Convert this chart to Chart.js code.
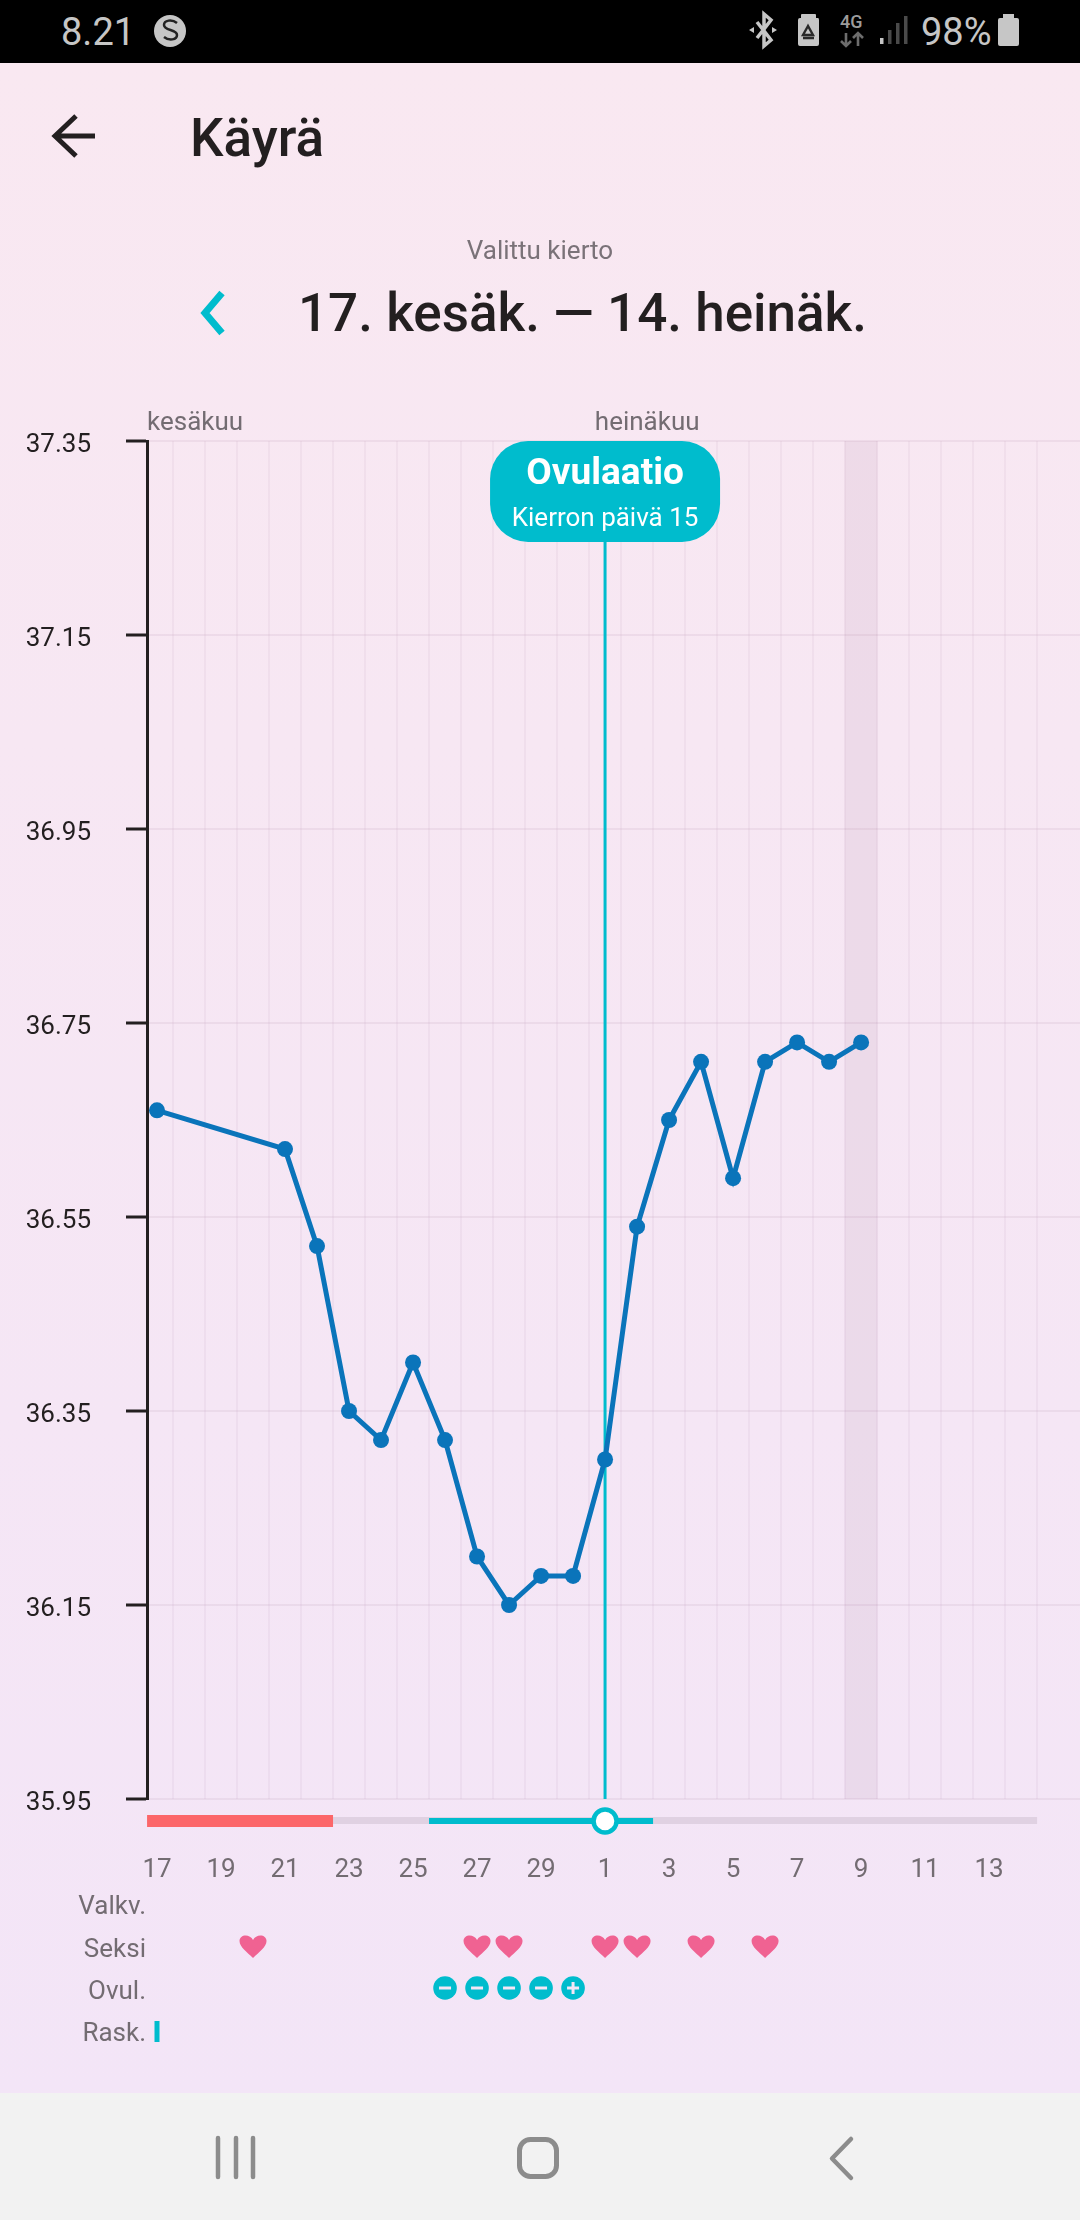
<!DOCTYPE html>
<html lang="fi">
<head>
<meta charset="utf-8">
<title>Käyrä</title>
<script src="https://cdn.jsdelivr.net/npm/chart.js@4"></script>
<style>
html,body{margin:0;padding:0;width:1080px;height:2220px;overflow:hidden;font-family:Roboto,sans-serif}
#page{position:absolute;left:0;top:0;width:1080px;height:2220px;background:linear-gradient(180deg,#f9e8f1 0,#f9e8f1 63px,#f3e5f7 2093px)}
#status{position:absolute;left:0;top:0;width:1080px;height:63px;background:#000}
#nav{position:absolute;left:0;top:2093px;width:1080px;height:127px;background:#f2f2f2}
canvas{position:absolute;left:0;top:0}
.t{position:absolute;white-space:nowrap;line-height:1;transform:translateY(-50%)}
svg{position:absolute;left:0;top:0}
</style>
</head>
<body>
<div id="page">
  <canvas id="c" width="1080" height="2220"></canvas>
  <div id="status"></div>
  <div id="nav"></div>
  <div class="t" style="left:61px;top:32px;font-size:38px;color:#c6c6c6">8.21</div>
  <div class="t" style="left:921px;top:32px;font-size:38px;color:#c6c6c6">98%</div>
  <div class="t" style="left:840px;top:22px;font-size:18px;font-weight:500;color:#9c9c9c">4G</div>
  <div class="t" style="left:190px;top:138px;font-size:53px;font-weight:500;color:#231f20">Käyrä</div>
  <div class="t" style="left:0;width:1080px;text-align:center;top:250px;font-size:26px;color:#7a7278">Valittu kierto</div>
  <div class="t" style="left:298px;top:313px;font-size:53px;font-weight:500;color:#231f20">17. kesäk. — 14. heinäk.</div>
  <svg width="1080" height="2220" viewBox="0 0 1080 2220" fill="none">
    <circle cx="170" cy="31" r="16" fill="#c6c6c6"/>
    <path d="M177 23c-5-4-13-3-13 2 0 6 13 4 13 10 0 5-8 6-13 2" stroke="#222" stroke-width="2.5"/>
    <path d="M757 22l14 18-7 6V14l7 6-14 18" stroke="#c6c6c6" stroke-width="3.5"/>
    <path d="M749 30l5-3v6zM777 30l-5-3v6z" fill="#c6c6c6"/>
    <path d="M801 18v-3q0-1 1-1h13q1 0 1 1v3h2q1 0 1 2v24q0 2-2 2h-17q-2 0-2-2V20q0-2 2-2z" fill="#c6c6c6"/>
    <path d="M808 26l-5 9h10zM803 38h11" stroke="#2a2a2a" stroke-width="2.4"/>
    <path d="M846 33v13m-5-5l5 5 5-5" stroke="#6d6d6d" stroke-width="2.6"/>
    <path d="M858 46V33m-5 5l5-5 5 5" stroke="#6d6d6d" stroke-width="2.6"/>
    <rect x="880" y="38" width="3.5" height="6" fill="#c6c6c6"/>
    <rect x="888" y="30" width="3.5" height="14" fill="#4a4a4a"/>
    <rect x="896" y="23" width="3.5" height="21" fill="#4a4a4a"/>
    <rect x="904" y="16" width="3.5" height="28" fill="#4a4a4a"/>
    <path d="M1003 14h11v4h3q2 0 2 2v24q0 2-2 2h-17q-2 0-2-2V20q0-2 2-2h3z" fill="#c6c6c6"/>
    <path d="M95 136H57M76 116l-21 20 21 20" stroke="#231f20" stroke-width="5"/>
    <path d="M222 293l-17 20 17 20" stroke="#00bccd" stroke-width="7"/>
    <path d="M218 2138v39M236 2138v39M253 2138v39" stroke="#8c8c8c" stroke-width="4.5" stroke-linecap="round"/>
    <rect x="519.5" y="2139.5" width="37" height="37" rx="11" stroke="#8c8c8c" stroke-width="5"/>
    <path d="M851 2139l-19 19.500 19 19.500" stroke="#8c8c8c" stroke-width="4.500" stroke-linecap="round" stroke-linejoin="round"/>
  </svg>
</div>
<script>
const dayLabels = ['17','18','19','20','21','22','23','24','25','26','27','28','29','30','1','2','3','4','5','6','7','8','9','10','11','12','13','14'];
const temperatures = [36.66,null,null,null,36.62,36.52,36.35,36.32,36.40,36.32,36.20,36.15,36.18,36.18,36.30,36.54,36.65,36.71,36.59,36.71,36.73,36.71,36.73,null,null,null,null,null];
const yTickValues = [35.95,36.15,36.35,36.55,36.75,36.95,37.15,37.35];
const monthLabels = ['kesäkuu','heinäkuu'];
const monthStarts = [-0.31,13.68];
const ovulationDay = 14;
const ovulationTitle = 'Ovulaatio';
const ovulationSubtitle = 'Kierron päivä 15';
const shadedDay = 22;
const periodRange = [-0.31,5.5];
const fertileRange = [8.5,15.5];
const trackRange = [-0.31,27.5];
const rowLabels = ['Valkv.','Seksi','Ovul.','Rask.'];
const sexDays = [3,10,11,14,15,17,19];
const ovulationTestNegative = [9,10,11,12];
const ovulationTestPositive = [13];
const pregnancyTestDays = [0];

const xMin = -0.3125, xMax = 28.84;
const yMin = 35.95, yMax = 37.35;
const ink = '#231f20', teal = '#00bccd', grey = '#736c72', blue = '#0a74ba';

const decorations = {
  id:'decorations',
  afterDatasetsDraw(chart){
    const {ctx, scales:{x}, chartArea:a} = chart;
    const px = v => x.getPixelForValue(v);
    ctx.save();
    // month captions
    ctx.font = '26px Roboto'; ctx.fillStyle = grey; ctx.textAlign='left'; ctx.textBaseline='middle';
    monthLabels.forEach((m,i)=>ctx.fillText(m,px(monthStarts[i]),423));
    // ovulation callout
    const cx = px(ovulationDay);
    ctx.fillStyle = teal;
    ctx.beginPath(); ctx.roundRect(cx-115,a.top,230,101,38); ctx.fill();
    ctx.fillStyle = '#fff'; ctx.textAlign='center';
    ctx.font = '700 37px Roboto'; ctx.fillText(ovulationTitle,cx,475);
    ctx.font = '26px Roboto'; ctx.fillText(ovulationSubtitle,cx,519);
    // cycle strip
    const sy = 1821;
    ctx.fillStyle = '#e0d1e2'; ctx.fillRect(px(trackRange[0]),sy-4,px(trackRange[1])-px(trackRange[0]),7);
    ctx.fillStyle = '#fc6669'; ctx.fillRect(px(periodRange[0]),sy-6,px(periodRange[1])-px(periodRange[0]),12);
    ctx.fillStyle = teal; ctx.fillRect(px(fertileRange[0]),sy-3,px(fertileRange[1])-px(fertileRange[0]),6);
    ctx.beginPath(); ctx.arc(cx,sy,11.5,0,Math.PI*2); ctx.fillStyle='#fff'; ctx.fill();
    ctx.lineWidth=4.5; ctx.strokeStyle=teal; ctx.stroke();
    // row captions
    ctx.font='26px Roboto'; ctx.fillStyle=grey; ctx.textAlign='right';
    const rows=[1907,1950,1992,2034];
    rowLabels.forEach((l,i)=>ctx.fillText(l,146,rows[i]));
    // hearts
    ctx.fillStyle='#f06292';
    sexDays.forEach(d=>{
      const hx=px(d), hy=1936;
      ctx.beginPath();
      ctx.moveTo(hx,hy+22);
      ctx.bezierCurveTo(hx-6,hy+16,hx-13.5,hy+11,hx-13.5,hy+5);
      ctx.bezierCurveTo(hx-13.5,hy-2,hx-3,hy-2.5,hx,hy+4);
      ctx.bezierCurveTo(hx+3,hy-2.5,hx+13.500,hy-2,hx+13.500,hy+5);
      ctx.bezierCurveTo(hx+13.500,hy+11,hx+6,hy+16,hx,hy+22);
      ctx.fill();
    });
    // ovulation tests
    const badge=(d,plus)=>{
      const bx=px(d), by=1988;
      ctx.beginPath(); ctx.arc(bx,by,11.8,0,Math.PI*2); ctx.fillStyle=teal; ctx.fill();
      ctx.fillStyle='#f5e6f6'; ctx.fillRect(bx-6,by-1.5,12,3);
      if(plus) ctx.fillRect(bx-1.5,by-6,3,12);
    };
    ovulationTestNegative.forEach(d=>badge(d,false));
    ovulationTestPositive.forEach(d=>badge(d,true));
    // pregnancy test
    ctx.fillStyle=teal;
    pregnancyTestDays.forEach(d=>ctx.fillRect(px(d)-2.5,2021,5,21));
    ctx.restore();
  }
};

new Chart(document.getElementById('c'),{
  type:'line',
  data:{
    datasets:[
      {type:'line',label:'Lämpötila',data:temperatures.map((y,i)=>({x:i,y})),borderColor:blue,backgroundColor:blue,borderWidth:5,
       pointRadius:8,pointHoverRadius:8,pointBackgroundColor:blue,pointBorderWidth:0,spanGaps:true,tension:0,order:0,xAxisID:'x',yAxisID:'y'},
      {type:'line',label:'Ovulaatio',data:[{x:ovulationDay,y:yMin},{x:ovulationDay,y:yMax}],borderColor:teal,borderWidth:3,pointRadius:0,order:1,xAxisID:'x',yAxisID:'y'},
      {type:'bar',label:'Valittu päivä',data:[{x:shadedDay,y:[yMin,yMax]}],backgroundColor:'rgba(130,80,120,0.08)',barThickness:32,order:2,xAxisID:'x',yAxisID:'y'}
    ]
  },
  plugins:[decorations],
  options:{
    responsive:false,animation:false,devicePixelRatio:1,
    layout:{autoPadding:false,padding:{top:441,right:0,left:0,bottom:0}},
    plugins:{legend:{display:false},tooltip:{enabled:false}},
    scales:{
      x:{type:'linear',position:'bottom',min:xMin,max:xMax,offset:false,
         grid:{display:false,offset:false},border:{display:false},
         afterBuildTicks(s){s.ticks=dayLabels.map((_,i)=>({value:i})).filter(t=>t.value%2===0);},
         afterFit(s){s.height=421;s.paddingLeft=0;s.paddingRight=0;},
         ticks:{autoSkip:false,maxRotation:0,minRotation:0,padding:48,color:grey,font:{family:'Roboto',size:26},
                callback:v=>dayLabels[v]}},
      xGrid:{type:'linear',position:'bottom',min:xMin,max:xMax,offset:false,
         grid:{display:true,offset:false,color:'rgba(130,80,120,0.055)',lineWidth:2,drawTicks:false},border:{display:false},
         afterBuildTicks(s){s.ticks=dayLabels.map((_,i)=>({value:i+0.5}));},
         afterFit(s){s.height=0;s.paddingLeft=0;s.paddingRight=0;},
         ticks:{display:false}},
      y:{type:'linear',position:'left',min:yMin,max:yMax,
         grid:{color:'rgba(130,80,120,0.08)',lineWidth:2,tickLength:21,tickColor:ink,tickWidth:3,drawTicks:true},
         border:{display:true,color:ink,width:3},
         afterBuildTicks(s){s.ticks=yTickValues.map(value=>({value}));},
         afterFit(s){s.width=147;},
         ticks:{padding:35,labelOffset:4,color:ink,font:{family:'Roboto',size:26},callback:v=>Number(v).toFixed(2)}}
    }
  }
});
</script>
</body>
</html>
